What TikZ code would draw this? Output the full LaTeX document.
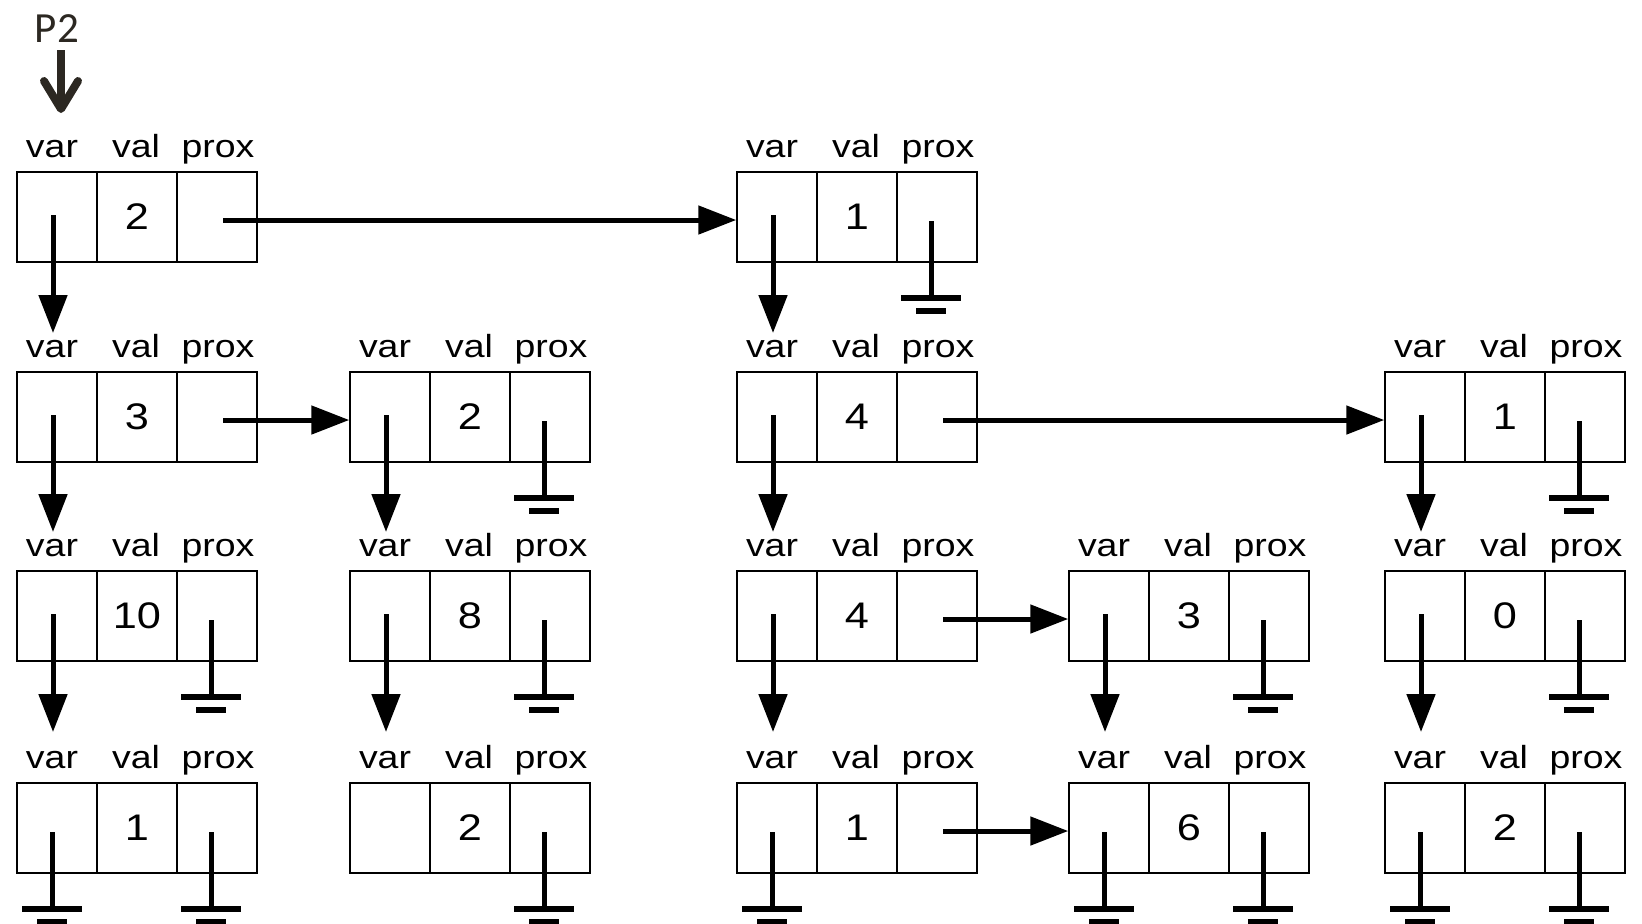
\documentclass[tikz,border=0pt]{standalone}
\usepackage{fontspec}
\usepackage{tikz}
\usetikzlibrary{arrows.meta, positioning}
\newfontfamily\fonterotulo[FakeStretch=1.17]{Liberation Sans}
\newfontfamily\fontep{Carlito}
\definecolor{tinta}{RGB}{44,40,34}
\newcommand{\aterra}[2]{%
  \draw[line width=2.5pt] ([shift={(#2,4)}]#1.center) -- ++(0,74);
  \draw[line width=2.75pt] ([shift={(#2-30,81)}]#1.center) -- ++(60,0);
  \draw[line width=2.75pt] ([shift={(#2-15,94)}]#1.center) -- ++(30,0);}

\begin{document}
\begin{tikzpicture}[x=0.5pt, y=-0.5pt,
  celula/.style={draw, line width=0.75pt, minimum width=40pt, minimum height=45pt,
    inner sep=0pt, font=\fonterotulo\fontsize{18.5}{18.5}\selectfont},
  rotulo/.style={anchor=base, inner sep=0pt, font=\fonterotulo\fontsize{16}{16}\selectfont},
  seta/.style={line width=2.5pt, -{Triangle[length=19pt, width=14pt]}}]

  \useasboundingbox (0,0) rectangle (1642,923);

  \node[anchor=base, inner sep=0pt, text=tinta, font=\fontep\fontsize{21.5}{21.5}\selectfont]
    (P2) at (57,42) {P2};
  \coordinate (inicio) at (61,113);
  \draw[line width=4pt, draw=tinta, shorten <=4pt,
    -{Straight Barb[length=14pt, width=17pt, round]}] (P2.south -| inicio) -- (inicio);

  \foreach \nome/\x/\y/\v in {A/17/172/2, C/737/172/1,
      B/17/372/3, E/350/372/2, F/737/372/4, H/1385/372/1,
      D/17/571/10, G/350/571/8, I/737/571/4, J/1069/571/3, K/1385/571/0,
      L/17/783/1, M/350/783/2, N/737/783/1, O/1069/783/6, P/1385/783/2} {
    \node[celula] (\nome-var) at (\x+40,\y+45) {};
    \node[celula] (\nome-val) at (\x+120,\y+45) {\v};
    \node[celula] (\nome-prox) at (\x+200,\y+45) {};
    \node[rotulo] (\nome-lvar) at (\x+35,\y-15) {var};
    \node[rotulo] (\nome-lval) at (\x+119,\y-15) {val};
    \node[rotulo] (\nome-lprox) at (\x+201,\y-15) {prox};
  }

  \foreach \de/\para/\d in {A/B/84, C/F/84, B/D/84, E/G/84, F/I/84, H/K/84,
      D/L/96, G/M/96, I/N/96, J/O/96, K/P/96}
    \draw[seta] ([shift={(-4,-2)}]\de-var.center) -- ([shift={(-4,-\d)}]\para-var.center);

  \foreach \de/\para in {A/C, B/E, F/H, I/J, N/O}
    \draw[seta] ([shift={(6,3)}]\de-prox.center) -- ([shift={(0,3)}]\para-var.west);

  \foreach \nome in {C, E, H, D, G, J, K, L, M, O, P} {
    \aterra{\nome-prox}{-6}
  }
  \foreach \nome in {L, N, O, P} {
    \aterra{\nome-var}{-5}
  }

\end{tikzpicture}
\end{document}
